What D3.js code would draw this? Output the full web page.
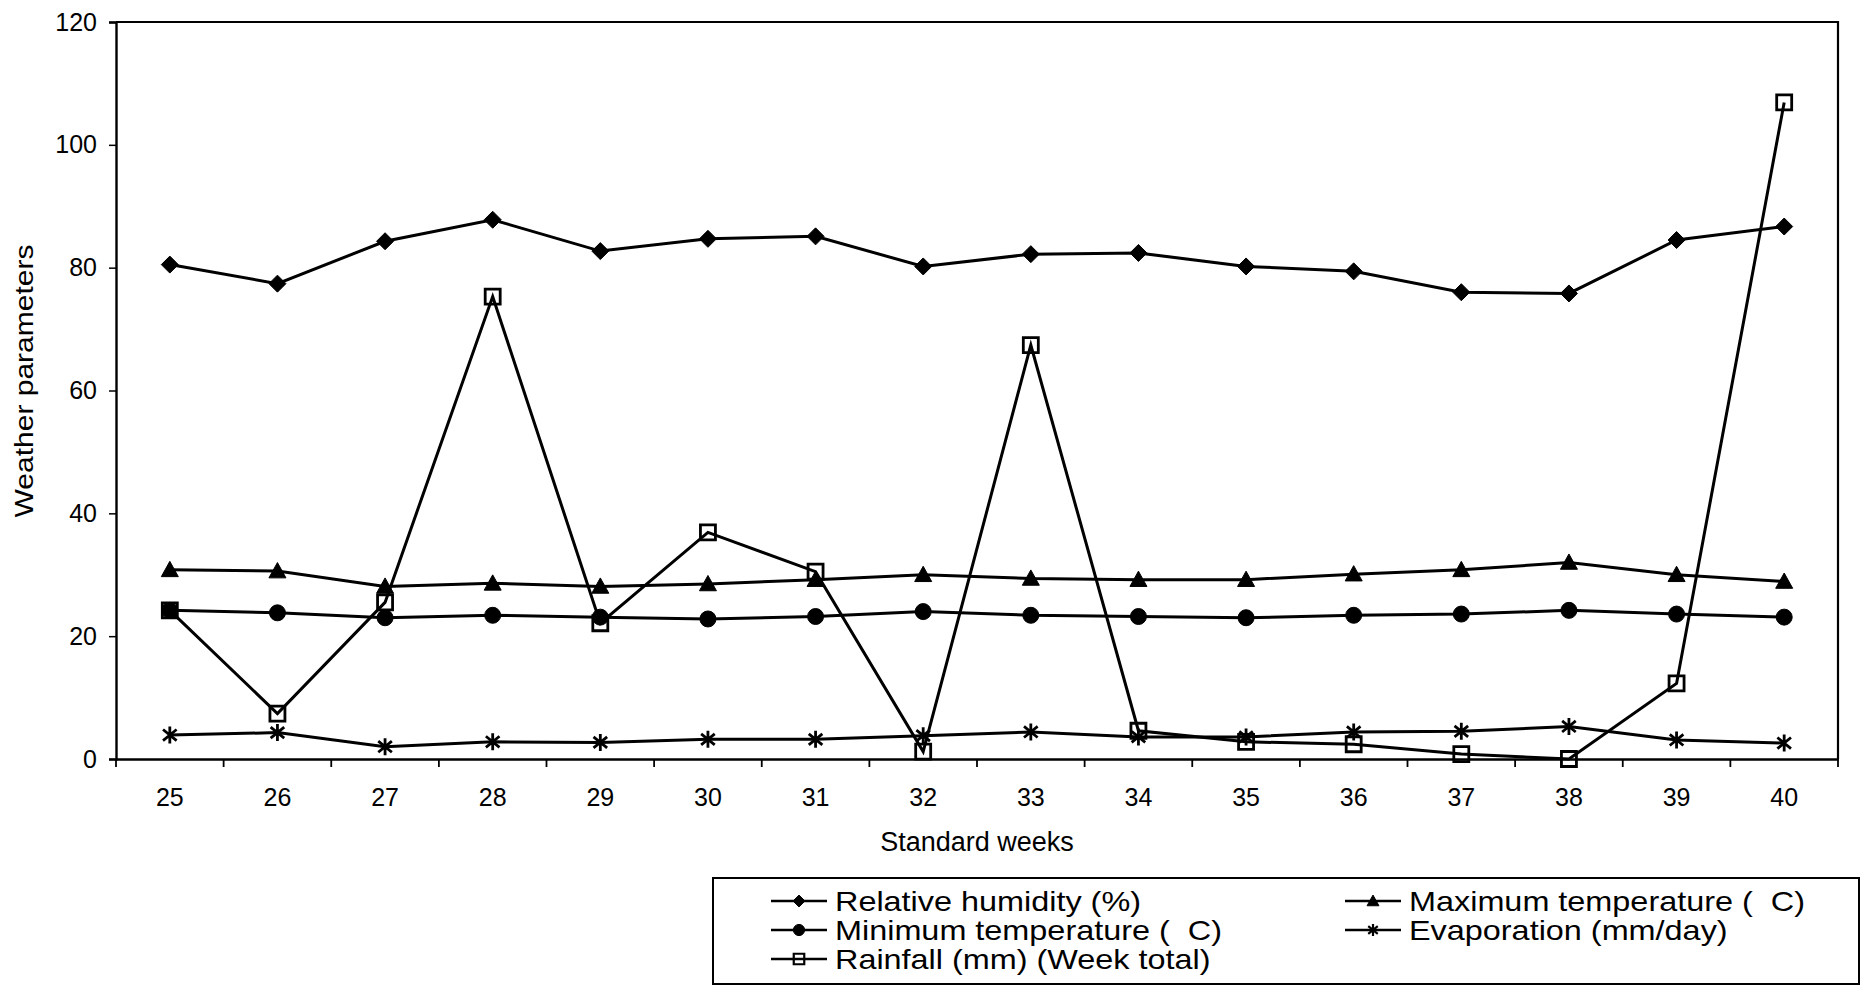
<!DOCTYPE html>
<html>
<head>
<meta charset="utf-8">
<script src="https://cdn.jsdelivr.net/npm/d3@7"></script>
<style>
  body { margin: 0; background: #fff; }
  text { font-family: "Liberation Sans", Arial, sans-serif; fill: #000; }
</style>
</head>
<body>
<div id="chart"></div>
<script>
(function() {
  'use strict';

  // values
  var weeks = [25, 26, 27, 28, 29, 30, 31, 32, 33, 34, 35, 36, 37, 38, 39, 40];
  var humidity = [80.5, 77.4, 84.3, 87.8, 82.7, 84.7, 85.1, 80.2, 82.2, 82.4, 80.2, 79.4, 76.0, 75.8, 84.5, 86.7];
  var maxTemp = [30.8, 30.6, 28.1, 28.6, 28.1, 28.5, 29.2, 30.0, 29.4, 29.2, 29.2, 30.1, 30.8, 32.0, 30.0, 28.9];
  var minTemp = [24.2, 23.8, 23.0, 23.4, 23.1, 22.8, 23.2, 24.0, 23.4, 23.2, 23.0, 23.4, 23.6, 24.2, 23.6, 23.1];
  var evaporation = [3.9, 4.3, 2.0, 2.8, 2.7, 3.2, 3.2, 3.8, 4.4, 3.6, 3.6, 4.4, 4.5, 5.3, 3.1, 2.6];
  var rainfall = [24.2, 7.4, 25.5, 75.3, 22.1, 36.9, 30.5, 1.2, 67.4, 4.6, 2.8, 2.4, 0.8, 0, 12.3, 106.9];
  var yTicks = [0, 20, 40, 60, 80, 100, 120];

  var seriesNames = ['Relative humidity (%)', 'Maximum temperature (  C)', 'Minimum temperature (  C)',
    'Evaporation (mm/day)', 'Rainfall (mm) (Week total)'];
  var seriesMarkers = ['diamond', 'triangle', 'circle', 'asterisk', 'square'];
  var seriesValues = [humidity, maxTemp, minTemp, evaporation, rainfall];

  var svg,
    svgW = 1861,
    svgH = 985;

  var plotL = 116, plotR = 1838, plotT = 22, plotB = 759;

  var x, y, bw, line;

  svg = d3.select('#chart')
    .append('svg')
    .attr('width', svgW)
    .attr('height', svgH);

  x = d3.scaleBand()
    .domain(weeks)
    .range([plotL, plotR])
    .padding(0);
  bw = x.bandwidth();

  y = d3.scaleLinear()
    .domain([0, 120])
    .range([plotB, plotT]);

  //plot area border (top + right)
  svg.append('path')
    .attr('d', 'M' + plotL + ',' + plotT + 'H' + plotR + 'V' + plotB)
    .attr('fill', 'none')
    .attr('stroke', '#000')
    .attr('stroke-width', 2.2);

  //y axis
  var yAxis = svg.append('g')
    .attr('transform', 'translate(' + plotL + ',0)')
    .call(d3.axisLeft(y).tickValues(yTicks).tickSize(7).tickPadding(12));
  yAxis.select('.domain').attr('stroke-width', 2.4);
  yAxis.selectAll('.tick line').attr('stroke-width', 1.5);
  yAxis.selectAll('text').attr('font-size', 25).attr('font-family', null);

  //x axis: labels centred on weeks, ticks on band edges
  var xAxis = svg.append('g')
    .attr('transform', 'translate(0,' + plotB + ')')
    .call(d3.axisBottom(x).tickSize(0).tickPadding(29).tickSizeOuter(0));
  xAxis.select('.domain').attr('stroke-width', 2.4);
  xAxis.selectAll('text').attr('font-size', 25).attr('font-family', null);

  svg.append('g')
    .selectAll('line')
    .data(weeks.concat(['end']))
    .enter()
    .append('line')
    .attr('x1', function(d) { return d === 'end' ? plotR : x(d); })
    .attr('x2', function(d) { return d === 'end' ? plotR : x(d); })
    .attr('y1', plotB)
    .attr('y2', plotB + 8)
    .attr('stroke', '#000')
    .attr('stroke-width', 1.8);

  //axis titles
  svg.append('text')
    .attr('x', 977)
    .attr('y', 851)
    .attr('text-anchor', 'middle')
    .attr('font-size', 27)
    .text('Standard weeks');

  svg.append('text')
    .attr('transform', 'translate(33,381) rotate(-90) scale(1.2,1)')
    .attr('text-anchor', 'middle')
    .attr('font-size', 25)
    .text('Weather parameters');

  function markerPath(type, s) {
    var p;
    switch (type) {
      case 'diamond':
        return 'M0,' + (-s) + 'L' + s + ',0L0,' + s + 'L' + (-s) + ',0Z';
      case 'triangle':
        return 'M0,' + (-s) + 'L' + s + ',' + (s * 0.8) + 'L' + (-s) + ',' + (s * 0.8) + 'Z';
      case 'square':
        return 'M' + (-s) + ',' + (-s) + 'H' + s + 'V' + s + 'H' + (-s) + 'Z';
      case 'asterisk':
        return 'M0,' + (-s) + 'V' + s +
          'M' + (-s * 0.8) + ',' + (-s * 0.65) + 'L' + (s * 0.8) + ',' + (s * 0.65) +
          'M' + (s * 0.8) + ',' + (-s * 0.65) + 'L' + (-s * 0.8) + ',' + (s * 0.65);
      default:
        p = d3.path();
        p.arc(0, 0, s, 0, 2 * Math.PI);
        return p.toString();
    }
  }

  function styleMarker(sel, type) {
    var hollow = type === 'square' || type === 'asterisk';
    sel.attr('fill', hollow ? 'none' : '#000')
      .attr('stroke', '#000')
      .attr('stroke-width', hollow ? 2.8 : 1);
  }

  var markerSize = { diamond: 8.5, triangle: 8.5, circle: 8, asterisk: 8.5, square: 7.5 };

  line = d3.line()
    .x(function(d, i) { return x(weeks[i]) + bw / 2; })
    .y(function(d) { return y(d); });

  seriesValues.forEach(function(vals, k) {
    var type = seriesMarkers[k];
    var g = svg.append('g');

    g.append('path')
      .attr('d', line(vals))
      .attr('fill', 'none')
      .attr('stroke', '#000')
      .attr('stroke-width', 3);

    g.selectAll('path.mk')
      .data(vals)
      .enter()
      .append('path')
      .attr('class', 'mk')
      .attr('transform', function(d, i) {
        return 'translate(' + (x(weeks[i]) + bw / 2) + ',' + y(d) + ')';
      })
      .attr('d', markerPath(type, markerSize[type]))
      .call(styleMarker, type);
  });

  //legend
  var legend = svg.append('g');
  legend.append('rect')
    .attr('x', 713)
    .attr('y', 878)
    .attr('width', 1146)
    .attr('height', 106)
    .attr('fill', 'none')
    .attr('stroke', '#000')
    .attr('stroke-width', 2);

  var colX = [771, 1345],
    rowY = [901, 930, 959];

  var items = legend.selectAll('g.item')
    .data(seriesNames)
    .enter()
    .append('g')
    .attr('class', 'item')
    .attr('transform', function(d, i) {
      return 'translate(' + colX[i % 2] + ',' + rowY[Math.floor(i / 2)] + ')';
    });

  items.append('line')
    .attr('x1', 0)
    .attr('x2', 56)
    .attr('stroke', '#000')
    .attr('stroke-width', 2.4);

  items.append('path')
    .attr('transform', 'translate(28,0)')
    .attr('d', function(d, i) { return markerPath(seriesMarkers[i], markerSize[seriesMarkers[i]] * 0.7); })
    .each(function(d, i) { d3.select(this).call(styleMarker, seriesMarkers[i]); })
    .attr('stroke-width', function(d, i) { return seriesMarkers[i] === 'square' || seriesMarkers[i] === 'asterisk' ? 2.2 : 1; });

  items.append('text')
    .attr('transform', 'translate(64,10) scale(1.2,1)')
    .attr('font-size', 27)
    .style('white-space', 'pre')
    .text(function(d) { return d; });

}());
</script>
</body>
</html>
